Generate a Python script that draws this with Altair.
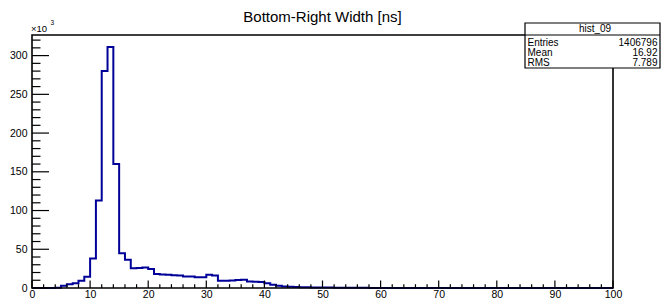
import altair as alt
import pandas as pd

# ---- data (bin contents in thousands, 100 bins of width 1 from 0 to 100) ----
bin_lo = list(range(0, 100))
counts_k = [
    0, 0, 0, 0, 0.4, 3.0, 4.8, 6.0, 9.5, 14.5,
    38, 113, 280, 311, 160, 45, 36.5, 25.5, 25.8, 26.5,
    24.5, 18, 17.5, 17, 16.5, 16, 15, 14.8, 14, 13.8,
    17, 16, 9.3, 9.5, 9.7, 10.3, 10.5, 8.5, 8, 7.8,
    6, 4.2, 2.9, 2, 1.5, 1.2, 1.0, 0.9, 0.8, 0.7,
    0.6, 0.5, 0.45, 0.4, 0.35, 0.3, 0.25, 0.2, 0.15, 0.1,
    0, 0, 0, 0, 0, 0, 0, 0, 0, 0,
    0, 0, 0, 0, 0, 0, 0, 0, 0, 0,
    0, 0, 0, 0, 0, 0, 0, 0, 0, 0,
    0, 0, 0, 0, 0, 0, 0, 0, 0, 0,
]
x_major = list(range(0, 101, 10))
x_minor = [v for v in range(0, 101, 2) if v % 10]
y_major = [0, 50, 100, 150, 200, 250, 300]
y_minor = [v for v in range(0, 330, 10) if v % 50]
title_text = "Bottom-Right Width [ns]"
hist_name = "hist_09"
stat_labels = ["Entries", "Mean", "RMS"]
stat_values = ["1406796", "16.92", "7.789"]
y_exp_base = "\u00d710"
y_exp_pow = "3"

W, H = 581, 253
FONT = "Liberation Sans"
xs = alt.Scale(domain=[0, 100], nice=False, zero=False)
ys = alt.Scale(domain=[0, 326.6], nice=False)
x_axis = alt.Axis(values=x_major, ticks=False, domain=False, grid=False, title=None,
                  labelPadding=1, labelFontSize=10.5, labelFont=FONT, labelColor="black",
                  labelFlush=False, labelOverlap=False)
y_axis = alt.Axis(values=y_major, ticks=False, domain=False, grid=False, title=None,
                  labelPadding=5, labelFontSize=10.5, labelFont=FONT, labelColor="black",
                  labelOverlap=False)

step_df = pd.DataFrame({"x": bin_lo + [100], "y": counts_k + [counts_k[-1]]})

hist = alt.Chart(step_df).mark_line(
    interpolate="step-after", color="#000099", strokeWidth=2
).encode(
    x=alt.X("x:Q", scale=xs, axis=x_axis),
    y=alt.Y("y:Q", scale=ys, axis=y_axis),
)

one = pd.DataFrame({"a": [0]})

frame = alt.Chart(one).mark_rect(
    fill="transparent", stroke="black", strokeWidth=1.6
).encode(x=alt.value(0), x2=alt.value(W), y=alt.value(0), y2=alt.value(H))

xmaj = alt.Chart(pd.DataFrame({"x": x_major})).mark_rule(color="black", strokeWidth=1.2).encode(
    x=alt.X("x:Q", scale=xs, axis=x_axis), y=alt.value(H), y2=alt.value(H - 7.5))
xmin = alt.Chart(pd.DataFrame({"x": x_minor})).mark_rule(color="black", strokeWidth=1.2).encode(
    x=alt.X("x:Q", scale=xs, axis=x_axis), y=alt.value(H), y2=alt.value(H - 3.8))
ymaj = alt.Chart(pd.DataFrame({"y": y_major})).mark_rule(color="black", strokeWidth=1.2).encode(
    y=alt.Y("y:Q", scale=ys, axis=y_axis), x=alt.value(0), x2=alt.value(17))
ymin = alt.Chart(pd.DataFrame({"y": y_minor})).mark_rule(color="black", strokeWidth=1.2).encode(
    y=alt.Y("y:Q", scale=ys, axis=y_axis), x=alt.value(0), x2=alt.value(8.5))

exp_base = alt.Chart(one).mark_text(
    text=y_exp_base, align="left", baseline="alphabetic", fontSize=9.5, font=FONT, color="black"
).encode(x=alt.value(-1), y=alt.value(-3))
exp_pow = alt.Chart(one).mark_text(
    text=y_exp_pow, align="left", baseline="alphabetic", fontSize=6.5, font=FONT, color="black"
).encode(x=alt.value(18.5), y=alt.value(-10))

title = alt.Chart(one).mark_text(
    text=title_text, align="center", baseline="alphabetic", fontSize=15, font=FONT, color="black"
).encode(x=alt.value(W / 2), y=alt.value(-13))

# statistics box
BX0, BX1, BY0, BY1 = 493, 628, -12, 33
box = alt.Chart(one).mark_rect(fill="white", stroke="black", strokeWidth=1.2).encode(
    x=alt.value(BX0), x2=alt.value(BX1), y=alt.value(BY0), y2=alt.value(BY1))
divider = alt.Chart(one).mark_rule(color="black", strokeWidth=1.2).encode(
    x=alt.value(BX0), x2=alt.value(BX1), y=alt.value(0))
header = alt.Chart(one).mark_text(
    text=hist_name, align="center", baseline="middle", fontSize=10, font=FONT, color="black"
).encode(x=alt.value(563), y=alt.value(-6))

row_layers = []
row_y = [7.8, 18, 28.2]
for lab, val, ry in zip(stat_labels, stat_values, row_y):
    row_layers.append(alt.Chart(one).mark_text(
        text=lab, align="left", baseline="middle", fontSize=10, font=FONT, color="black"
    ).encode(x=alt.value(BX0 + 2.5), y=alt.value(ry)))
    row_layers.append(alt.Chart(one).mark_text(
        text=val, align="right", baseline="middle", fontSize=10, font=FONT, color="black"
    ).encode(x=alt.value(BX1 - 2.5), y=alt.value(ry)))

chart = alt.layer(
    hist, frame, xmaj, xmin, ymaj, ymin, exp_base, exp_pow, title,
    box, divider, header, *row_layers
).properties(
    width=W, height=H,
    autosize=alt.AutoSizeParams(type="none"),
    padding={"left": 24, "top": 27, "right": 48, "bottom": 10},
).configure_view(stroke=None)

chart.save("out.html", embed_options={"renderer": "svg", "actions": False})
